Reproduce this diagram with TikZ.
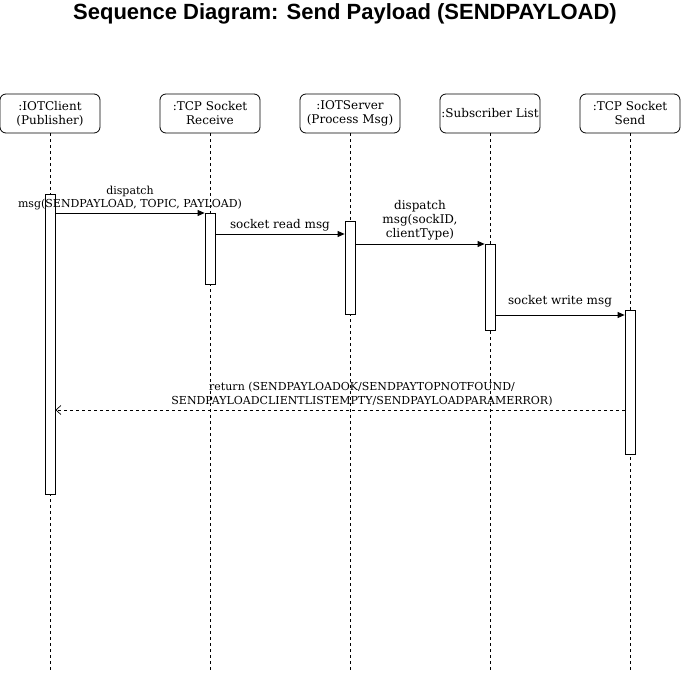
\documentclass[tikz,border=0pt]{standalone}
\usepackage{fontspec}
\setmainfont{DejaVu Serif}
\newfontfamily\titlefont{Liberation Sans}
\usetikzlibrary{arrows.meta}
\begin{document}
\begin{tikzpicture}[x=1pt,y=-1pt,
  actor/.style={draw,rounded corners=6pt,minimum width=100pt,minimum height=39pt,inner sep=0pt,align=center,font=\fontsize{12}{14}\selectfont,line width=0.8pt},
  life/.style={dashed,dash pattern=on 3pt off 3pt,line width=0.7pt},
  actbar/.style={draw,fill=white,line width=0.8pt,minimum width=10pt,inner sep=0pt,anchor=north},
  msg/.style={line width=0.8pt,-{Triangle[length=7pt,width=6pt]}},
  ret/.style={line width=0.7pt,dash pattern=on 3pt off 3pt,-{Straight Barb[length=5pt,width=9pt]}},
  lbl/.style={align=center,inner sep=0pt,font=\fontsize{12}{14}\selectfont},
  slbl/.style={align=center,inner sep=0pt,font=\fontsize{11}{13.5}\selectfont}]
\useasboundingbox (0,0) rectangle (681,675);
\node[font=\titlefont\bfseries\fontsize{22}{26}\selectfont] (title) at (345,14) {Sequence Diagram: Send Payload (SENDPAYLOAD)};
% actors
\node[actor] (a1) at (50,113.5) {:IOTClient\\(Publisher)};
\node[actor] (a2) at (210,113.5) {:TCP Socket\\Receive};
\node[actor] (a3) at (350,113.5) {:IOTServer\\(Process Msg)};
\node[actor] (a4) at (490,113.5) {:Subscriber List};
\node[actor] (a5) at (630,113.5) {:TCP Socket\\Send};
% lifeline ends
\coordinate (e1) at (50,672);
\coordinate (e2) at (210,672);
\coordinate (e3) at (350,672);
\coordinate (e4) at (490,672);
\coordinate (e5) at (630,672);
\foreach \i in {1,...,5} \draw[life] (a\i.south) -- (e\i);
% activation bars
\node[actbar,minimum height=300pt] (b1) at (50,194) {};
\node[actbar,minimum height=71pt] (b2) at (210,213) {};
\node[actbar,minimum height=93pt] (b3) at (350,221) {};
\node[actbar,minimum height=86pt] (b4) at (490,244) {};
\node[actbar,minimum height=144pt] (b5) at (630,310) {};
% messages
\draw[msg] (b1.east |- b2.north) -- (b2.north west);
\node[slbl] (l1) at (130,198) {dispatch\\msg(SENDPAYLOAD, TOPIC, PAYLOAD)};
\draw[msg] (b2.east |- 0,234) -- (b3.west |- 0,234);
\node[lbl] (l2) at (280,225) {socket read msg};
\draw[msg] (b3.east |- b4.north) -- (b4.north west);
\node[lbl] (l3) at (420,220) {dispatch\\msg(sockID,\\clientType)};
\draw[msg] (b4.east |- 0,315) -- (b5.west |- 0,315);
\node[lbl] (l4) at (560,301) {socket write msg};
\draw[ret] (b5.west |- 0,410) -- (b1.east |- 0,410);
\node[slbl] (l5) at (362,394) {return (SENDPAYLOADOK/SENDPAYTOPNOTFOUND/\\SENDPAYLOADCLIENTLISTEMPTY/SENDPAYLOADPARAMERROR)};
\end{tikzpicture}
\end{document}
